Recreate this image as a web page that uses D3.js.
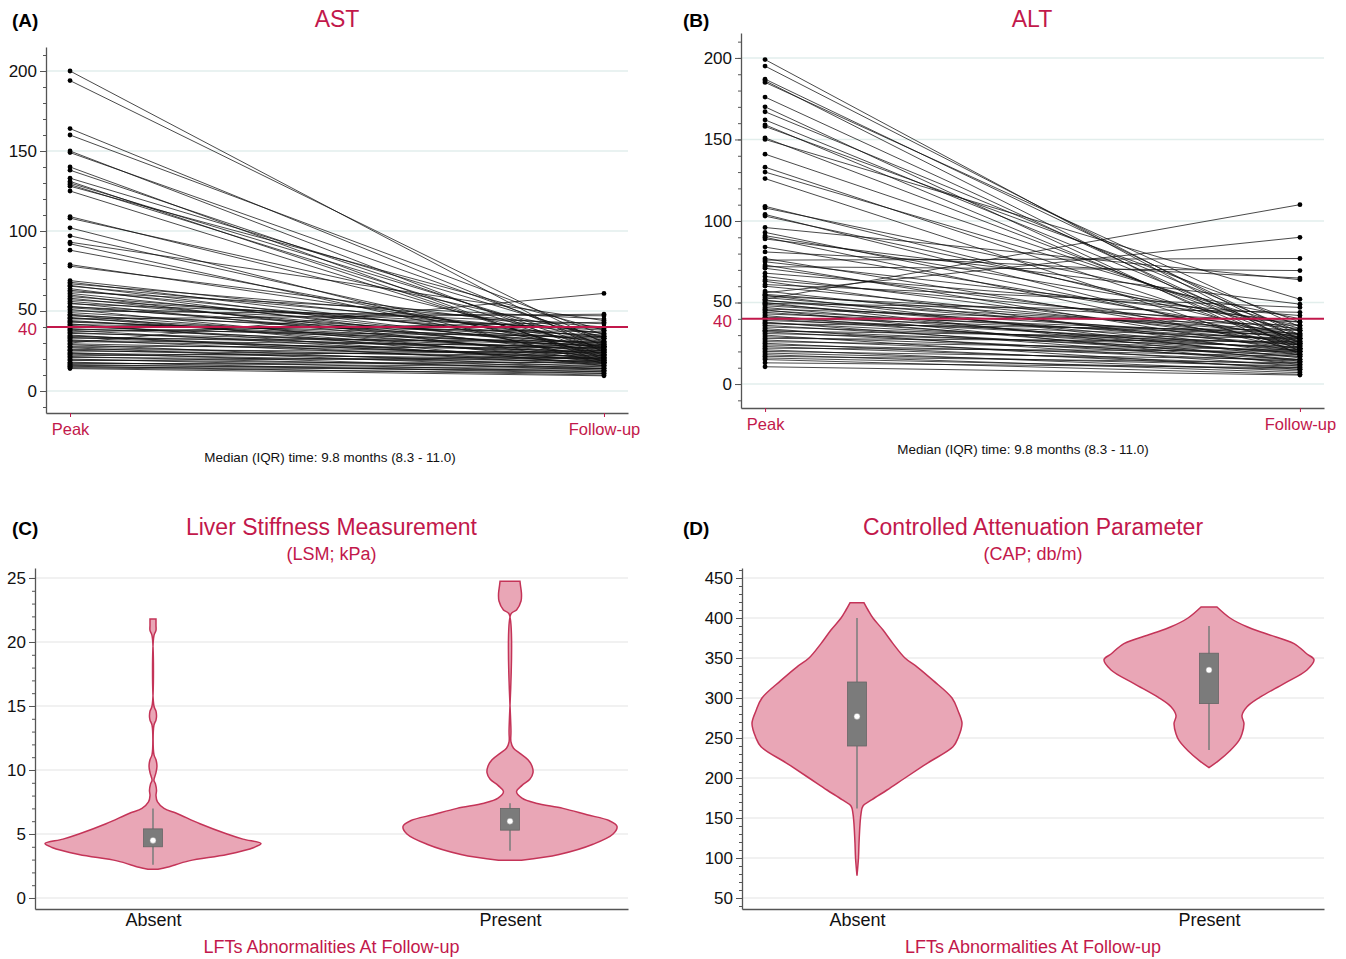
<!DOCTYPE html>
<html>
<head>
<meta charset="utf-8">
<script src="https://cdn.jsdelivr.net/npm/d3@7"></script>
<style>
  body { margin: 0; background: #fff; }
  svg { display: block; font-family: "Liberation Sans", Arial, Helvetica, sans-serif; }
</style>
</head>
<body>
<svg id="chart" width="1346" height="959"></svg>
<script>
// (A) AST, peak vs follow-up, one pair per patient
const astPeak = [200,194,164,160,150,149,140,138,133,131,130,129,128,125,109,108,102,97,93,92,88,79,78,
  69,68,67,66,65.5,64,63,62,61,60, 59,58,57,56,55,54.5,53,52.5,52,51,
  50,49,48,47.5,47,46,45.5,45,44,43.5, 43,42,41.5,41,40,39,38.5,38,37,36.5,
  36,35,34.5,34,33.5,33,32,31.5,31,30, 29.5,29,28,27.5,27,26,25.5,25,24,23.5,
  23,22,21.5,21,20,19.5,19,18,17.5,17, 16.5,16,15.5,15,14.5,14];
const astFollow = [24,30,28,35,22,31,18,26,33,20,29,25,38,21,27,34,17,23,44,19,26,30,36,
  33,28,40,25,36,22,31,45,27,19, 34,24,38,29,21,42,26,39,32,18,
  47,30,23,16,35,20,28,48,25,28, 33,17,37,22,30,26,34,19,43,24,
  29,16,20,27,21,31,18,28,25,61, 23,15,27,20,14,24,18,22,13,20,
  17,25,14,19,12,16,21,11,15,18, 12,14,10,13,11,9.5];

// (B) ALT
const altPeak = [199,195,187,186,185,176,170,167,162,159,158,151,150,141,133,130,126,109,108,104,
  103,96,93,91,90,89,84,81,77,76,75,73,72,71,68,66,64,63,61,60,
  57,56,55,54.5,54,53,52,51.5,51,50, 49.5,49,48,47,46,45.5,45,44,43,42,
  41,40.5,40,39,38,37.5,37,36,35,34, 33,32.5,32,31,30,29,28,27,26,25,
  24,23,22,21,20,19,18,17,16,15, 13,10.6];
const altFollow = [23,27,30,20,35,25,18,32,28,22,38,26,52,30,24,34,19,28,40,22,
  33,64,26,36,21,49,30,65,24,77,38,20,69.6,29,42,25,34,18,47,28,
  22,90,31,16,38,26,110,20,33,14, 44,24,29,18,36,12,27,21,31,15,
  30,24,19,28,13,22,33,17,25,11, 20,28,15,23,9,18,26,14,21,10,
  17,12,20,8,15,11,7,13,9,6, 10,5.5];

const timePoints = ["Peak", "Follow-up"];
const groups = ["Absent", "Present"];
const slopeTicks = [0, 50, 100, 150, 200];

// (C) LSM violins: value and relative density (1 = widest)
const lsmAbsentValue = [2.24,2.4,2.9,3.4,3.95,4.26,4.6,5.0,5.8,6.6,7.0,7.5,8.0,8.4,8.9,9.2,9.8,10.3,10.8,11.2,13.5,13.9,14.2,14.6,15.0,20.5,20.9,21.3,21.8];
const lsmAbsentDensity = [0.047,0.131,0.336,0.692,0.944,1.009,0.841,0.692,0.439,0.224,0.103,0.042,0.028,0.033,0.023,0.009,0.028,0.037,0.028,0.009,0.009,0.028,0.033,0.028,0.009,0.009,0.028,0.028,0.028];
const lsmPresentValue = [2.95,3.4,4.2,5.0,5.6,6.05,6.5,7.0,7.4,7.8,8.3,8.8,9.3,9.8,10.3,10.8,11.3,11.7,12.2,13,22.2,22.5,23.2,23.8,24.4,24.75];
const lsmPresentDensity = [0.107,0.458,0.776,0.963,1,0.925,0.72,0.495,0.243,0.112,0.061,0.112,0.187,0.215,0.206,0.168,0.093,0.033,0.009,0.009,0.009,0.061,0.103,0.107,0.098,0.093];
const lsmBox = [
  { lo: 2.6, q1: 4.0, median: 4.5, q3: 5.4, hi: 7.0 },
  { lo: 3.7, q1: 5.3, median: 6.0, q3: 7.0, hi: 7.4 }
];
const lsmTicks = [0, 5, 10, 15, 20, 25];

// (D) CAP violins
const capAbsentValue = [78,100,118,143,155,165,173,185,200,219,239,250,268,284,300,322,339,350,368,385,400,410,419];
const capAbsentDensity = [0,0.014,0.019,0.029,0.038,0.057,0.143,0.286,0.457,0.676,0.914,0.962,1,0.962,0.905,0.724,0.571,0.457,0.343,0.248,0.152,0.105,0.067];
const capPresentValue = [213,222,234,247,255,268,278,289,301,318,335,348,355,368,380,389,400,413.7];
const capPresentDensity = [0,0.095,0.2,0.286,0.314,0.333,0.314,0.362,0.486,0.714,0.933,1,0.933,0.81,0.552,0.362,0.2,0.076];
const capBox = [
  { lo: 162, q1: 240, median: 277, q3: 320, hi: 400 },
  { lo: 235, q1: 293, median: 335, q3: 356, hi: 390 }
];
const capTicks = [50, 100, 150, 200, 250, 300, 350, 400, 450];

const red = "#c2184b";
const axisCol = "#555";
const svg = d3.select("#chart");

const leftAxis = (x, y, majors, minors) => {
    svg.append("g")
        .attr("transform", `translate(${x},0)`)
        .call(d3.axisLeft(y).tickValues(minors).tickSize(3).tickFormat(""))
        .call(s => s.select(".domain").remove())
        .selectAll("line").attr("stroke", axisCol);
    const a = svg.append("g")
        .attr("transform", `translate(${x},0)`)
        .call(d3.axisLeft(y).tickValues(majors).tickSize(6).tickSizeOuter(0).tickPadding(3));
    a.select(".domain").attr("stroke", axisCol).attr("stroke-width", 1.3);
    a.selectAll(".tick line").attr("stroke", axisCol);
    a.selectAll("text").attr("font-size", 17).attr("fill", "#111");
    return a;
};

const grid = (x0, x1, y, values, colour) => {
    svg.append("g").selectAll("line")
        .data(values)
        .join("line")
        .attr("x1", x0 + 1).attr("x2", x1)
        .attr("y1", d => y(d)).attr("y2", d => y(d))
        .attr("stroke", colour).attr("stroke-width", 1.5);
};

const label = (txt, x, y, size, colour, anchor, weight) => {
    svg.append("text")
        .attr("x", x).attr("y", y)
        .attr("text-anchor", anchor || "middle")
        .attr("font-size", size)
        .attr("font-weight", weight || 400)
        .attr("fill", colour)
        .text(txt);
};

const slopePanel = (o) => {
    const x = d3.scalePoint().domain(timePoints).range([o.left, o.right]).padding(0.045);
    const y = d3.scaleLinear().domain(o.domain).range([o.bottom, o.top]);

    grid(o.left, o.right, y, slopeTicks, "#e2eeec");

    const pairs = o.peak.map((p, i) => ({ peak: p, follow: o.follow[i] }));
    svg.append("g").selectAll("line")
        .data(pairs)
        .join("line")
        .attr("x1", x("Peak")).attr("x2", x("Follow-up"))
        .attr("y1", d => y(d.peak)).attr("y2", d => y(d.follow))
        .attr("stroke", "#111").attr("stroke-width", 0.9).attr("stroke-opacity", 0.85);

    const dots = svg.append("g");
    dots.selectAll("circle.p")
        .data(o.peak).join("circle").attr("class", "p")
        .attr("cx", x("Peak")).attr("cy", d => y(d)).attr("r", 2.4).attr("fill", "#000");
    dots.selectAll("circle.f")
        .data(o.follow).join("circle").attr("class", "f")
        .attr("cx", x("Follow-up")).attr("cy", d => y(d)).attr("r", 2.4).attr("fill", "#000");

    svg.append("line")
        .attr("x1", o.left).attr("x2", o.right)
        .attr("y1", y(40)).attr("y2", y(40))
        .attr("stroke", red).attr("stroke-width", 2);

    const a = leftAxis(o.left, y, slopeTicks, d3.range(-10, 211, 10));
    a.selectAll("text").filter(d => d === 50).attr("dy", "0.22em");
    label("40", o.left - 9, y(40) + 8, 17, red, "end");

    const b = svg.append("g")
        .attr("transform", `translate(0,${o.bottom})`)
        .call(d3.axisBottom(x).tickSize(4).tickSizeOuter(0).tickPadding(6));
    b.select(".domain").attr("stroke", axisCol).attr("stroke-width", 1.3);
    b.selectAll(".tick line").attr("stroke", red);
    b.selectAll("text").attr("font-size", 16.5).attr("fill", red);

    label(o.title, o.titleX, 27, 23, red);
    label(o.tag, o.tagX, 27, 19, "#000", "start", 700);
    label("Median (IQR) time: 9.8 months (8.3 - 11.0)", o.captionX, o.captionY, 13.4, "#111");
};

const violinPanel = (o) => {
    const x = d3.scalePoint().domain(groups).range([o.left, o.right]).padding(o.pad);
    const y = d3.scaleLinear().domain(o.domain).range([909, 568]);
    const w = d3.scaleLinear().domain([0, 1]).range([0, o.maxHalf]);

    grid(o.left, o.right, y, o.ticks, "#ececec");

    const area = cx => d3.area()
        .y(d => y(d.v))
        .x0(d => cx - w(d.d))
        .x1(d => cx + w(d.d))
        .curve(d3.curveCatmullRom.alpha(0.5));

    o.shapes.forEach((s, i) => {
        const cx = x(groups[i]);
        const pts = s.value.map((v, j) => ({ v: v, d: s.density[j] }));
        svg.append("path").datum(pts)
            .attr("d", area(cx))
            .attr("fill", "#e9a6b6")
            .attr("stroke", "#c43458")
            .attr("stroke-width", 1.5);
    });

    const boxes = svg.append("g").selectAll("g")
        .data(o.box)
        .join("g")
        .attr("transform", (d, i) => `translate(${x(groups[i])},0)`);
    boxes.append("line")
        .attr("y1", d => y(d.lo)).attr("y2", d => y(d.hi))
        .attr("stroke", "#7f7f7f").attr("stroke-width", 1.6);
    boxes.append("rect")
        .attr("x", -9.5).attr("width", 19)
        .attr("y", d => y(d.q3)).attr("height", d => y(d.q1) - y(d.q3))
        .attr("fill", "#7b7b7b").attr("stroke", "#666").attr("stroke-width", 0.8);
    boxes.append("circle")
        .attr("cy", d => y(d.median)).attr("r", 3)
        .attr("fill", "#fff").attr("stroke", "#999").attr("stroke-width", 0.5);

    leftAxis(o.left, y, o.ticks, o.minor);

    const b = svg.append("g")
        .attr("transform", "translate(0,909)")
        .call(d3.axisBottom(x).tickSize(0).tickSizeOuter(0).tickPadding(4));
    b.select(".domain").attr("stroke", axisCol).attr("stroke-width", 1.3);
    b.selectAll("text").attr("font-size", 18).attr("fill", "#111");

    const mid = (o.left + o.right) / 2;
    label(o.title, mid, 535, 23, red);
    label(o.subtitle, mid, 560, 18, red);
    label("LFTs Abnormalities At Follow-up", mid, 953, 18, red);
    label(o.tag, o.tagX, 535, 19, "#000", "start", 700);
};

slopePanel({
    peak: astPeak, follow: astFollow,
    left: 46, right: 628, top: 47, bottom: 413, domain: [-13.75, 215],
    title: "AST", titleX: 337, tag: "(A)", tagX: 12, captionX: 330, captionY: 462
});

slopePanel({
    peak: altPeak, follow: altFollow,
    left: 741, right: 1324, top: 33, bottom: 408, domain: [-14.7, 215.3],
    title: "ALT", titleX: 1032, tag: "(B)", tagX: 683, captionX: 1023, captionY: 454
});

violinPanel({
    left: 35, right: 628, pad: 0.3305, domain: [-0.86, 25.78], maxHalf: 107,
    ticks: lsmTicks, minor: d3.range(0, 26, 1),
    shapes: [
        { value: lsmAbsentValue, density: lsmAbsentDensity },
        { value: lsmPresentValue, density: lsmPresentDensity }
    ],
    box: lsmBox,
    title: "Liver Stiffness Measurement", subtitle: "(LSM; kPa)", tag: "(C)", tagX: 12
});

violinPanel({
    left: 742, right: 1324, pad: 0.3267, domain: [36.25, 462.5], maxHalf: 105,
    ticks: capTicks, minor: d3.range(40, 461, 10),
    shapes: [
        { value: capAbsentValue, density: capAbsentDensity },
        { value: capPresentValue, density: capPresentDensity }
    ],
    box: capBox,
    title: "Controlled Attenuation Parameter", subtitle: "(CAP; db/m)", tag: "(D)", tagX: 683
});
</script>
</body>
</html>
